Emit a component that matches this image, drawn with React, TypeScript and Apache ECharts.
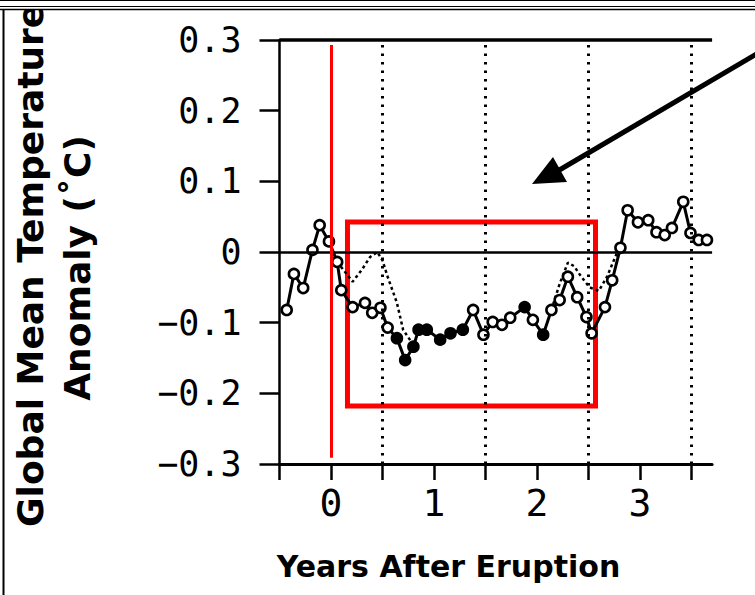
import React, { useEffect, useRef } from "react";
import * as echarts from "echarts";

// Observed series (years after eruption, anomaly °C)
const years = [
  -0.43, -0.36, -0.27, -0.18, -0.11, -0.02, 0.06, 0.1, 0.21, 0.33, 0.4, 0.48,
  0.55, 0.64, 0.72, 0.8, 0.85, 0.93, 1.06, 1.16, 1.28, 1.38, 1.48, 1.57, 1.66,
  1.74, 1.88, 1.96, 2.06, 2.14, 2.22, 2.3, 2.39, 2.48, 2.53, 2.66, 2.73, 2.81,
  2.88, 2.98, 3.08, 3.16, 3.24, 3.31, 3.42, 3.49, 3.57, 3.65,
];
const anomaly = [
  -0.082, -0.031, -0.051, 0.003, 0.038, 0.015, -0.014, -0.054, -0.078, -0.072,
  -0.086, -0.079, -0.107, -0.122, -0.153, -0.134, -0.11, -0.11, -0.124, -0.115,
  -0.11, -0.082, -0.117, -0.099, -0.103, -0.093, -0.078, -0.096, -0.117,
  -0.082, -0.068, -0.035, -0.064, -0.092, -0.115, -0.078, -0.04, 0.006, 0.059,
  0.042, 0.045, 0.028, 0.024, 0.034, 0.071, 0.027, 0.017, 0.017,
];
// points drawn with solid (filled) markers
const filledYears = [0.64, 0.72, 0.8, 0.85, 0.93, 1.06, 1.16, 1.28, 1.88, 2.06];

// Dotted comparison curve where it departs from the observed one
const dottedYearsA = [0.06, 0.21, 0.3, 0.38, 0.45, 0.5, 0.55, 0.64, 0.7, 0.77];
const dottedValsA = [-0.014, -0.042, -0.025, -0.007, 0.0, -0.012, -0.035, -0.072, -0.11, -0.125];
const dottedYearsB = [2.14, 2.22, 2.3, 2.36, 2.43, 2.51, 2.6, 2.68, 2.78, 2.81];
const dottedValsB = [-0.082, -0.045, -0.015, -0.02, -0.035, -0.05, -0.055, -0.035, 0.0, 0.006];

const halfYearLines = [0.5, 1.5, 2.5, 3.5];
const yTicks = [-0.3, -0.2, -0.1, 0, 0.1, 0.2, 0.3];

// Annotations (data coordinates)
const eruptionLine = { x: 0, top: 0.293, bottom: -0.291 };
const highlightBox = { x0: 0.16, y0: 0.0424, x1: 2.568, y1: -0.218 };

export default function App() {
  const ref = useRef<HTMLDivElement>(null);
  useEffect(() => {
    if (!ref.current) return;
    const chart = echarts.init(ref.current, null, { renderer: "svg" });
    const option: any = {
      animation: false,
      backgroundColor: "#fff",
      grid: { left: 279.5, top: 40, width: 432.6, height: 424 },
      xAxis: {
        type: "value",
        min: -0.5,
        max: 3.7,
        interval: 0.5,
        axisLine: { show: true, onZero: false, lineStyle: { color: "#000", width: 3 } },
        axisTick: { show: true, length: 16, lineStyle: { color: "#000", width: 2.5 } },
        axisLabel: {
          show: true,
          color: "#000",
          fontFamily: "DejaVu Sans Mono",
          fontSize: 38,
          margin: 20,
          showMaxLabel: false,
          formatter: (v: number) => (Number.isInteger(v) ? String(v) : ""),
        },
        splitLine: { show: false },
      },
      yAxis: {
        type: "value",
        min: -0.3,
        max: 0.3,
        interval: 0.1,
        axisLine: { show: true, onZero: false, lineStyle: { color: "#000", width: 2.5 } },
        axisTick: { show: true, length: 20, lineStyle: { color: "#000", width: 2.5 } },
        axisLabel: {
          show: true,
          color: "#000",
          fontFamily: "DejaVu Sans Mono",
          fontSize: 35,
          margin: 38,
          formatter: (v: number) => {
            const t = yTicks.find((k) => Math.abs(k - v) < 1e-9);
            const val = t === undefined ? v : t;
            if (Math.abs(val) < 1e-9) return "0";
            return val.toFixed(1).replace("-", "\u2212");
          },
        },
        splitLine: { show: false },
      },
      series: [
        {
          type: "line",
          data: [],
          silent: true,
          z: 1,
          markLine: {
            silent: true,
            symbol: "none",
            label: { show: false },
            data: [
              ...halfYearLines.map((x) => ({
                xAxis: x,
                lineStyle: { color: "#000", type: [2.5, 6], width: 3 },
              })),
              { yAxis: 0, lineStyle: { color: "#000", type: "solid", width: 2.5 } },
              { yAxis: 0.3, lineStyle: { color: "#000", type: "solid", width: 3.5 } },
            ],
          },
        },
        {
          type: "line",
          data: dottedYearsA.map((x, i) => [x, dottedValsA[i]]),
          symbol: "none",
          lineStyle: { color: "#000", width: 2.5, type: [3, 3] },
          z: 2,
        },
        {
          type: "line",
          data: dottedYearsB.map((x, i) => [x, dottedValsB[i]]),
          symbol: "none",
          lineStyle: { color: "#000", width: 2.5, type: [3, 3] },
          z: 2,
        },
        {
          type: "line",
          data: years.map((x, i) => ({
            value: [x, anomaly[i]],
            itemStyle: filledYears.includes(x) ? { color: "#000" } : undefined,
          })),
          symbol: "circle",
          symbolSize: 10,
          showAllSymbol: true,
          lineStyle: { color: "#000", width: 3 },
          itemStyle: { color: "#fff", borderColor: "#000", borderWidth: 2.6 },
          z: 3,
        },
        {
          type: "line",
          data: [],
          silent: true,
          z: 10,
          markLine: {
            silent: true,
            symbol: "none",
            label: { show: false },
            data: [
              [
                { coord: [eruptionLine.x, eruptionLine.top] },
                { coord: [eruptionLine.x, eruptionLine.bottom] },
              ],
            ],
            lineStyle: { color: "#ff0000", width: 3, type: "solid" },
          },
          markArea: {
            silent: true,
            label: { show: false },
            itemStyle: { color: "rgba(0,0,0,0)", borderColor: "#ff0000", borderWidth: 5 },
            data: [
              [
                { xAxis: highlightBox.x0, yAxis: highlightBox.y0 },
                { xAxis: highlightBox.x1, yAxis: highlightBox.y1 },
              ],
            ],
          },
        },
      ],
      graphic: [
        {
          type: "text",
          x: 30,
          y: 527,
          rotation: Math.PI / 2,
          z: 1,
          style: {
            text: "Global Mean Temperature",
            fill: "#000",
            fontFamily: "DejaVu Sans",
            fontWeight: "bold",
            fontSize: 36,
            align: "left",
            verticalAlign: "middle",
          },
        },
        {
          type: "text",
          x: 77,
          y: 268,
          rotation: Math.PI / 2,
          z: 1,
          style: {
            text: "Anomaly (\u02DAC)",
            fill: "#000",
            fontFamily: "DejaVu Sans",
            fontWeight: "bold",
            fontSize: 36,
            align: "center",
            verticalAlign: "middle",
          },
        },
        {
          type: "text",
          x: 448.5,
          y: 566,
          z: 1,
          style: {
            text: "Years After Eruption",
            fill: "#000",
            fontFamily: "DejaVu Sans",
            fontWeight: "bold",
            fontSize: 30,
            align: "center",
            verticalAlign: "middle",
          },
        },
        {
          type: "rect",
          z: 50,
          shape: { x: 0, y: 0, width: 755, height: 9 },
          style: { fill: "#fff", stroke: null },
        },
        {
          type: "line",
          z: 51,
          shape: { x1: 0, y1: 0.5, x2: 755, y2: 0.5 },
          style: { stroke: "#000", lineWidth: 1 },
        },
        {
          type: "line",
          z: 51,
          shape: { x1: 0, y1: 6.5, x2: 755, y2: 6.5 },
          style: { stroke: "#000", lineWidth: 1 },
        },
        {
          type: "line",
          z: 51,
          shape: { x1: 0, y1: 9.5, x2: 755, y2: 9.5 },
          style: { stroke: "#000", lineWidth: 1.5 },
        },
        {
          type: "line",
          z: 51,
          shape: { x1: 3.5, y1: 9, x2: 3.5, y2: 595 },
          style: { stroke: "#000", lineWidth: 2 },
        },
        {
          type: "line",
          z: 60,
          shape: { x1: 760, y1: 52, x2: 556, y2: 172 },
          style: { stroke: "#000", lineWidth: 5 },
        },
        {
          type: "polygon",
          z: 60,
          shape: { points: [[532, 184], [567, 182], [553, 157]] },
          style: { fill: "#000", stroke: null },
        },
      ],
    };
    chart.setOption(option);
    return () => chart.dispose();
  }, []);
  return (
    <div
      ref={ref}
      style={{ position: "fixed", left: 0, top: 0, width: 755, height: 595 }}
    />
  );
}
